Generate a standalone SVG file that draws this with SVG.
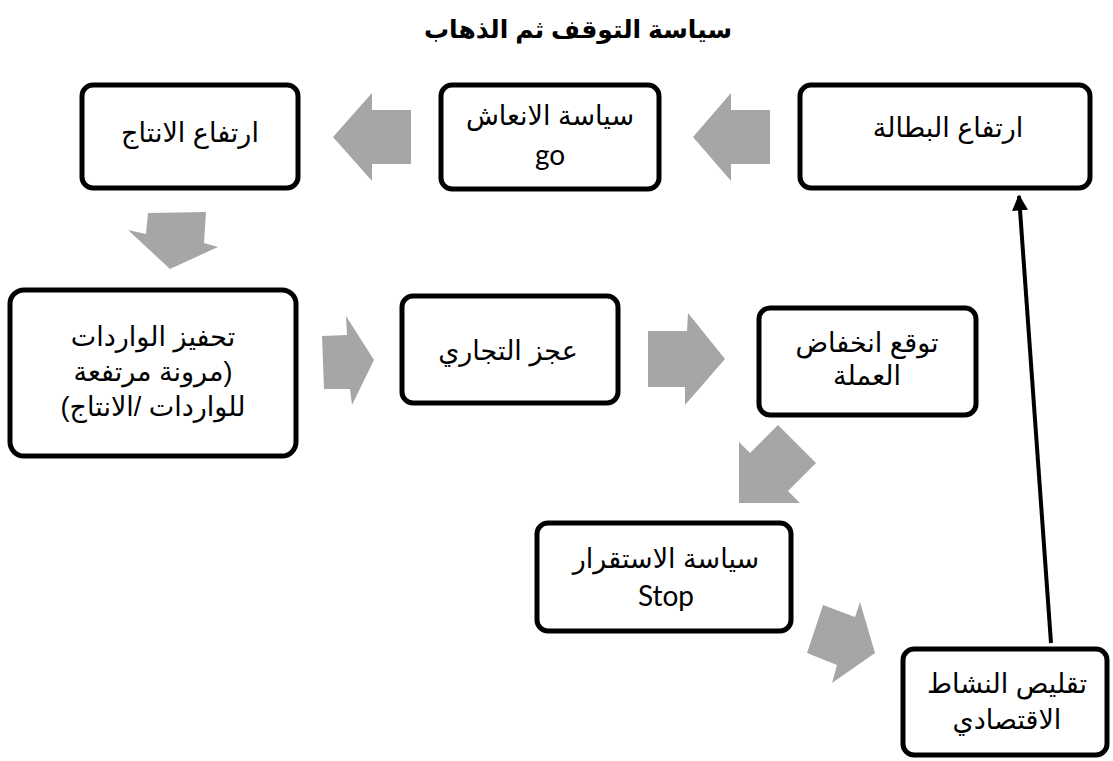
<svg xmlns="http://www.w3.org/2000/svg" width="1113" height="761" viewBox="0 0 1113 761">
<style>
.box{fill:#fff;stroke:#000;stroke-width:5}
.t{font-family:"Liberation Sans","DejaVu Sans",sans-serif;font-size:27px;fill:#000;text-anchor:middle}
.en{font-family:Lato,"Open Sans",sans-serif;font-size:28px;fill:#000;text-anchor:middle}
.ttl{font-family:"Liberation Sans","DejaVu Sans",sans-serif;font-size:25px;font-weight:bold;fill:#000;text-anchor:middle}
.ga{fill:#a6a6a6}
</style>
<defs>
<marker id="ah" viewBox="0 0 10 10" refX="9" refY="5" markerWidth="4" markerHeight="4" orient="auto" markerUnits="strokeWidth">
<path d="M0,0 L10,5 L0,10 z" fill="#000"/>
</marker>
</defs>
<rect width="1113" height="761" fill="#fff"/>
<text class="ttl" x="578" y="38" direction="rtl">سياسة التوقف ثم الذهاب</text>

<g id="connectors">
<polygon class="ga" points="411,110 372,110 372,93 333,137 372,181 372,164 411,164"/>
<polygon class="ga" points="770,110 731,110 731,93 693,137 731,181 731,164 770,164"/>
<polygon class="ga" points="148,213 206,212 204,243 218,247 170,269 128,230 146,234"/>
<polygon class="ga" points="322,336 347,335 346,316 374,360 352,405 350,389 324,389"/>
<polygon class="ga" points="648,331 687,331 688,313 725,359 685,405 685,387 648,387"/>
<polygon class="ga" points="778,425 816,463 788,491 800,503 739,503 739,442 750,453"/>
<polygon class="ga" points="823,605 855,617 860,602 875,653 832,683 837,665 807,653"/>
<line x1="1051" y1="643" x2="1019" y2="196" stroke="#000" stroke-width="4" marker-end="url(#ah)"/>
</g>

<g id="n1"><rect class="box" x="800" y="85" width="290" height="103" rx="11"/>
<text class="t" x="948" y="137" direction="rtl">ارتفاع البطالة</text></g>
<g id="n2"><rect class="box" x="441" y="85" width="218" height="104" rx="11"/>
<text class="t" x="550" y="125" direction="rtl">سياسة الانعاش</text>
<text class="en" x="550" y="165">go</text></g>
<g id="n3"><rect class="box" x="82" y="85" width="216" height="103" rx="11"/>
<text class="t" x="190" y="142" direction="rtl">ارتفاع الانتاج</text></g>
<g id="n4"><rect class="box" x="10" y="290" width="286" height="166" rx="14"/>
<text class="t" x="153" y="346" direction="rtl">تحفيز الواردات</text>
<text class="t" x="153" y="381" direction="rtl">(مرونة مرتفعة</text>
<text class="t" x="153" y="416" direction="rtl">للواردات /الانتاج)</text></g>
<g id="n5"><rect class="box" x="402" y="296" width="216" height="107" rx="11"/>
<text class="t" x="508" y="360" direction="rtl">عجز التجاري</text></g>
<g id="n6"><rect class="box" x="759" y="308" width="217" height="107" rx="11"/>
<text class="t" x="867" y="352" direction="rtl">توقع انخفاض</text>
<text class="t" x="867" y="385" direction="rtl">العملة</text></g>
<g id="n7"><rect class="box" x="537" y="523" width="254" height="108" rx="11"/>
<text class="t" x="666" y="568" direction="rtl">سياسة الاستقرار</text>
<text class="en" x="666" y="606">Stop</text></g>
<g id="n8"><rect class="box" x="903" y="649" width="204" height="106" rx="11"/>
<text class="t" x="1007" y="693" direction="rtl">تقليص النشاط</text>
<text class="t" x="1007" y="729" direction="rtl">الاقتصادي</text></g>
</svg>
